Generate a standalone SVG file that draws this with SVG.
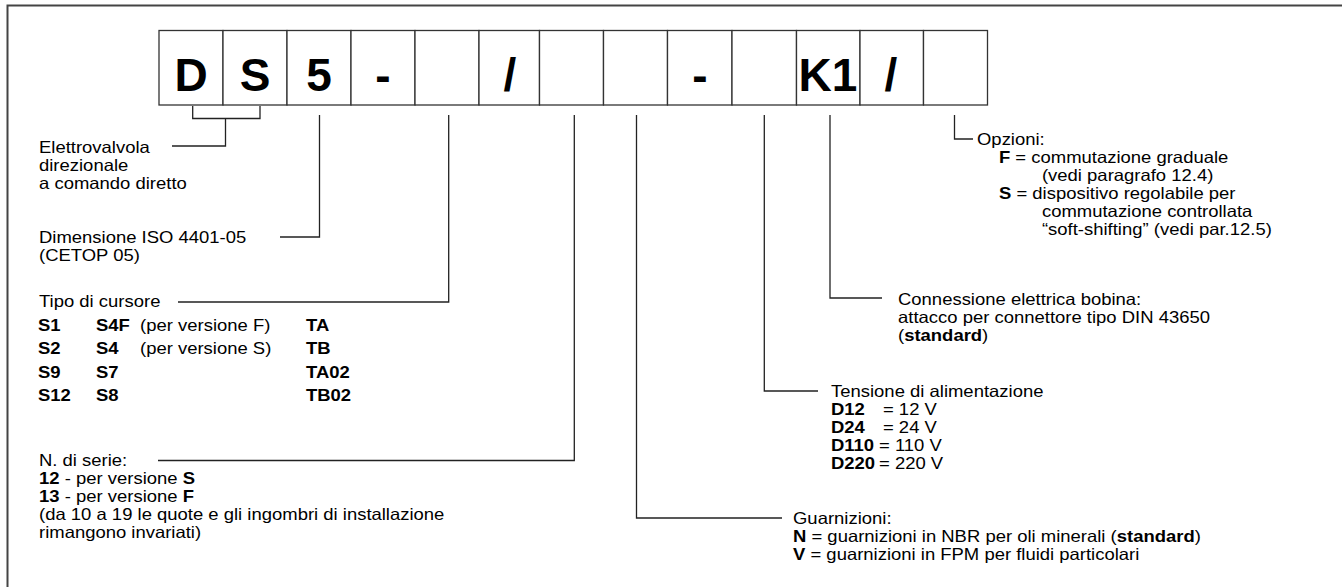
<svg xmlns="http://www.w3.org/2000/svg" width="1342" height="587" viewBox="0 0 1342 587">
<style>
text{font-family:"Liberation Sans",Arial,sans-serif;fill:#000}
.t{font-size:16.5px}
.b{font-weight:bold}
.big{font-size:46px;font-weight:bold;text-anchor:middle}
.box{fill:#fff;stroke:#333;stroke-width:1.3}
.ln{fill:none;stroke:#222;stroke-width:1.3}
.frame{fill:none;stroke:#444;stroke-width:2}
</style>
<rect width="1342" height="587" fill="#fff"/>
<path class="frame" d="M7.5,587 V5.5 H1342"/>
<g id="code">
<g id="box1"><rect class="box" x="159" y="30.5" width="64" height="74.5"/><text class="big" x="191" y="91">D</text></g>
<g id="box2"><rect class="box" x="223" y="30.5" width="64" height="74.5"/><text class="big" x="255" y="91">S</text></g>
<g id="box3"><rect class="box" x="287" y="30.5" width="64" height="74.5"/><text class="big" x="319" y="91">5</text></g>
<g id="box4"><rect class="box" x="351" y="30.5" width="64" height="74.5"/><text class="big" x="383" y="91">-</text></g>
<g id="box5"><rect class="box" x="415" y="30.5" width="64" height="74.5"/></g>
<g id="box6"><rect class="box" x="479" y="30.5" width="60.5" height="74.5"/><text class="big" x="510" y="91">/</text></g>
<g id="box7"><rect class="box" x="539.5" y="30.5" width="64" height="74.5"/></g>
<g id="box8"><rect class="box" x="603.5" y="30.5" width="64" height="74.5"/></g>
<g id="box9"><rect class="box" x="667.5" y="30.5" width="64.5" height="74.5"/><text class="big" x="700" y="91">-</text></g>
<g id="box10"><rect class="box" x="732" y="30.5" width="64.5" height="74.5"/></g>
<g id="box11"><rect class="box" x="796.5" y="30.5" width="63.5" height="74.5"/><text class="big" x="828" y="91">K1</text></g>
<g id="box12"><rect class="box" x="860" y="30.5" width="63.5" height="74.5"/><text class="big" x="891" y="91">/</text></g>
<g id="box13"><rect class="box" x="923.5" y="30.5" width="64" height="74.5"/></g>
</g>
<g id="connectors">
<path class="ln" d="M192.7,106 V118.5 H260 V106 M225.5,118.5 V146 H172"/>
<path class="ln" d="M319.5,115 V237 H280"/>
<path class="ln" d="M448.7,115 V302 H178"/>
<path class="ln" d="M574.3,115 V460.5 H158"/>
<path class="ln" d="M636.5,115 V518 H782"/>
<path class="ln" d="M764.3,115 V391 H818"/>
<path class="ln" d="M830,115 V298 H882"/>
<path class="ln" d="M954.5,115 V139 H973"/>
</g>
<g id="n-elettrovalvola" transform="translate(39,0) scale(1.12,1)"><text class="t" x="0" y="153">Elettrovalvola</text><text class="t" x="0" y="171">direzionale</text><text class="t" x="0" y="189">a comando diretto</text></g>
<g id="n-dimensione" transform="translate(39,0) scale(1.12,1)"><text class="t" x="0" y="243">Dimensione ISO 4401-05</text><text class="t" x="0" y="261">(CETOP 05)</text></g>
<g id="n-cursore" transform="translate(39,0) scale(1.12,1)">
<text class="t" x="0" y="307">Tipo di cursore</text>
<text class="t" y="331"><tspan class="b" x="-1">S1</tspan><tspan class="b" x="50.9">S4F</tspan><tspan x="85.7"> (per versione F)</tspan><tspan class="b" x="238.4">TA</tspan></text>
<text class="t" y="354.5"><tspan class="b" x="-1">S2</tspan><tspan class="b" x="50.9">S4</tspan><tspan x="90.2">(per versione S)</tspan><tspan class="b" x="238.4">TB</tspan></text>
<text class="t" y="378"><tspan class="b" x="-1">S9</tspan><tspan class="b" x="50.9">S7</tspan><tspan class="b" x="238.4">TA02</tspan></text>
<text class="t" y="401.5"><tspan class="b" x="-1">S12</tspan><tspan class="b" x="50.9">S8</tspan><tspan class="b" x="238.4">TB02</tspan></text>
</g>
<g id="n-serie" transform="translate(39,0) scale(1.12,1)">
<text class="t" x="0" y="466">N. di serie:</text>
<text class="t" x="0" y="484"><tspan class="b">12</tspan> - per versione <tspan class="b">S</tspan></text>
<text class="t" x="0" y="502"><tspan class="b">13</tspan> - per versione <tspan class="b">F</tspan></text>
<text class="t" x="0" y="520">(da 10 a 19 le quote e gli ingombri di installazione</text>
<text class="t" x="0" y="538">rimangono invariati)</text>
</g>
<g id="n-guarnizioni" transform="translate(793,0) scale(1.12,1)">
<text class="t" x="0" y="524">Guarnizioni:</text>
<text class="t" x="0" y="542"><tspan class="b">N</tspan> = guarnizioni in NBR per oli minerali (<tspan class="b">standard</tspan>)</text>
<text class="t" x="0" y="560"><tspan class="b">V</tspan> = guarnizioni in FPM per fluidi particolari</text>
</g>
<g id="n-tensione" transform="translate(831,0) scale(1.12,1)">
<text class="t" x="0" y="397">Tensione di alimentazione</text>
<text class="t" y="415"><tspan class="b" x="0">D12</tspan><tspan x="46.4">= 12 V</tspan></text>
<text class="t" y="433"><tspan class="b" x="0">D24</tspan><tspan x="46.4">= 24 V</tspan></text>
<text class="t" y="451"><tspan class="b" x="0">D110</tspan><tspan x="42.9">= 110 V</tspan></text>
<text class="t" y="469"><tspan class="b" x="0">D220</tspan><tspan x="42.9">= 220 V</tspan></text>
</g>
<g id="n-connessione" transform="translate(898,0) scale(1.12,1)">
<text class="t" x="0" y="305">Connessione elettrica bobina:</text>
<text class="t" x="0" y="323">attacco per connettore tipo DIN 43650</text>
<text class="t" x="0" y="341">(<tspan class="b">standard</tspan>)</text>
</g>
<g id="n-opzioni" transform="translate(977,0) scale(1.12,1)">
<text class="t" x="0" y="145">Opzioni:</text>
<text class="t" x="19.6" y="163"><tspan class="b">F</tspan> = commutazione graduale</text>
<text class="t" x="58" y="181">(vedi paragrafo 12.4)</text>
<text class="t" x="19.6" y="199"><tspan class="b">S</tspan> = dispositivo regolabile per</text>
<text class="t" x="58" y="217">commutazione controllata</text>
<text class="t" x="58" y="235">“soft-shifting” (vedi par.12.5)</text>
</g>
</svg>
